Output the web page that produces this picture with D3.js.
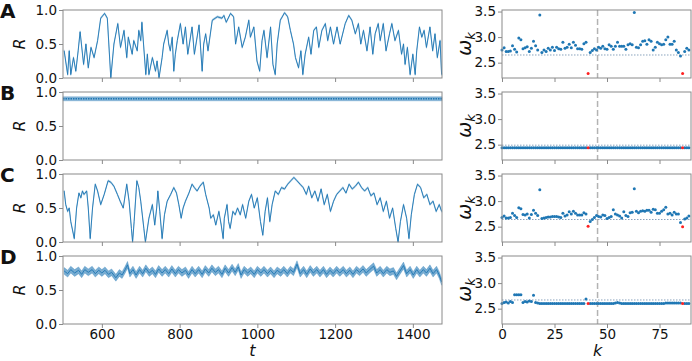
<!DOCTYPE html>
<html>
<head>
<meta charset="utf-8">
<script src="https://cdn.jsdelivr.net/npm/d3@7/dist/d3.min.js"></script>
<style>
  body { margin: 0; background: #fff; }
  text { font-family: "DejaVu Sans", sans-serif; fill: #111; }
</style>
</head>
<body>
<svg id="chart" width="692" height="361"></svg>
<script>
// ---- time series R(t), vertices ----
const tA = [503,512,516,520,527,533,539,544,553,559,565,572,580,589,597,607,614,623,631,641,648,657,664,668,678,682,691,695,700,703,713,717,721,730,738,742,747,755,759,768,772,776,781,785,789,794,802,809,815,821,832,838,850,858,862,867,873,884,897,909,914,920,931,939,
  944,952,961,969,978,982,991,999,1006,1012,1017,1025,1034,1040,1046,1051,1059,1070,1078,1085,1093,1098,1106,1112,1117,1123,1132,1138,1145,1152,1158,1166,1175,1181,1188,1196,1205,1213,1226,1235,1243,1252,1260,1266,1273,1282,1290,1297,1303,1311,1316,1324,1331,1340,1346,1354,1363,1371,1376,1380,1386,1393,1400,1406,1410,1417,1423,1429,1435,1444,1451,1457,1463,1470,1474];
const rA = [0.40,0.05,0.40,0.05,0.30,0.10,0.40,0.68,0.20,0.50,0.15,0.45,0.30,0.55,0.88,0.95,0.88,0.00,0.50,0.80,0.45,0.70,0.30,0.60,0.35,0.55,0.40,0.70,0.55,0.82,0.05,0.35,0.05,0.30,0.10,0.25,0.00,0.30,0.50,0.70,0.50,0.40,0.60,0.10,0.35,0.55,0.80,0.50,0.75,0.35,0.75,0.35,0.78,0.10,0.50,0.65,0.40,0.85,0.90,0.88,0.92,0.82,0.95,0.90,
  0.50,0.75,0.45,0.60,0.85,0.60,0.75,0.25,0.10,0.55,0.70,0.30,0.75,0.20,0.05,0.50,0.85,0.96,0.90,0.70,0.50,0.30,0.15,0.40,0.05,0.35,0.60,0.35,0.70,0.75,0.45,0.70,0.80,0.55,0.75,0.50,0.75,0.50,0.80,0.92,0.85,0.65,0.80,0.50,0.70,0.40,0.75,0.35,0.65,0.80,0.55,0.80,0.40,0.65,0.80,0.55,0.70,0.35,0.50,0.20,0.45,0.05,0.35,0.05,0.40,0.75,0.60,0.70,0.45,0.75,0.40,0.65,0.30,0.55,0.05];

const tB = [500, 1475];
const rB = [0.90, 0.90];

const tC = [503,507,512,516,520,529,535,541,546,550,554,561,565,570,576,583,589,597,606,616,623,631,640,647,655,664,670,676,679,683,690,695,700,708,712,721,730,736,741,744,749,755,761,768,777,785,792,798,804,809,815,824,832,838,845,852,861,867,876,880,887,893,901,907,912,915,922,926,930,937,943,949,956,
  962,970,978,985,992,1000,1008,1014,1020,1026,1032,1038,1046,1054,1062,1070,1078,1086,1094,1102,1110,1118,1126,1132,1140,1148,1156,1164,1172,1180,1188,1196,1204,1212,1220,1228,1236,1244,1252,1260,1268,1276,1284,1292,1300,1308,1316,1324,1332,1340,1348,1356,1362,1368,1376,1384,1390,1396,1404,1412,1420,1428,1436,1444,1452,1460,1468,1474];
const rC = [0.75,0.55,0.45,0.50,0.30,0.05,0.50,0.72,0.65,0.75,0.70,0.75,0.50,0.05,0.50,0.85,0.75,0.55,0.70,0.90,0.88,0.82,0.70,0.60,0.50,0.85,0.60,0.20,0.00,0.30,0.90,0.80,0.60,0.20,0.00,0.35,0.55,0.25,0.50,0.75,0.45,0.05,0.40,0.60,0.70,0.80,0.72,0.55,0.35,0.50,0.60,0.72,0.85,0.80,0.75,0.82,0.88,0.70,0.50,0.35,0.40,0.25,0.45,0.25,0.05,0.35,0.55,0.30,0.20,0.45,0.40,0.50,0.40,
  0.55,0.35,0.60,0.70,0.50,0.65,0.30,0.10,0.45,0.65,0.30,0.55,0.75,0.70,0.80,0.78,0.85,0.90,0.95,0.90,0.85,0.80,0.70,0.82,0.65,0.75,0.60,0.78,0.55,0.70,0.45,0.60,0.70,0.75,0.80,0.72,0.85,0.78,0.82,0.88,0.80,0.75,0.80,0.68,0.72,0.55,0.65,0.45,0.60,0.35,0.50,0.20,0.00,0.30,0.55,0.35,0.05,0.40,0.70,0.85,0.80,0.65,0.70,0.55,0.60,0.45,0.55,0.45];

const tD = [503,512,520,530,540,548,556,565,575,583,592,600,608,617,625,636,645,652,660,666,672,680,688,697,705,713,722,730,738,746,755,763,772,780,789,797,806,815,823,832,840,849,858,866,875,883,892,900,909,917,926,935,943,951,958,966,975,983,992,1000,1009,1017,1026,1034,1043,1051,1060,1068,1077,1085,1093,1102,1110,1119,1127,1136,1144,1153,1161,1170,1178,1187,1195,1204,1212,1221,1229,1238,1246,1255,1263,1272,1280,1289,1299,1307,1316,1324,1333,1341,1350,1358,1367,1376,1384,1393,1401,1410,1418,1427,1435,1444,1452,1461,1468,1474];
const rD = [0.78,0.74,0.80,0.75,0.79,0.73,0.80,0.76,0.80,0.74,0.79,0.75,0.79,0.73,0.76,0.68,0.75,0.72,0.80,0.87,0.74,0.80,0.72,0.80,0.74,0.82,0.75,0.79,0.73,0.81,0.75,0.80,0.74,0.81,0.74,0.80,0.75,0.79,0.72,0.80,0.74,0.80,0.73,0.81,0.75,0.82,0.76,0.80,0.73,0.82,0.75,0.83,0.76,0.84,0.72,0.80,0.75,0.79,0.73,0.80,0.75,0.80,0.74,0.79,0.73,0.79,0.75,0.80,0.74,0.80,0.76,0.88,0.74,0.80,0.73,0.81,0.75,0.80,0.74,0.80,0.73,0.79,0.74,0.80,0.75,0.80,0.74,0.79,0.73,0.80,0.76,0.81,0.75,0.80,0.85,0.75,0.80,0.74,0.80,0.76,0.78,0.70,0.78,0.86,0.74,0.80,0.72,0.80,0.74,0.80,0.75,0.82,0.74,0.80,0.72,0.62];

// ---- frequencies omega_k, k = 0..89 ----
const kIdx = d3.range(90);
const omegaA = [2.75,2.79,2.72,2.72,2.73,2.83,2.76,2.71,2.98,2.95,2.77,2.79,2.81,2.72,2.78,2.92,2.83,2.75,3.43,2.70,
  2.75,2.72,2.78,2.75,2.80,2.74,2.80,2.77,2.76,2.90,2.78,2.80,2.86,2.79,2.90,2.84,2.77,2.77,2.76,2.87,
  2.90,2.29,2.70,2.74,2.77,2.75,2.80,2.78,2.82,2.77,2.76,2.85,2.82,2.76,2.82,2.90,2.82,2.82,2.82,2.76,
  2.85,2.87,2.85,3.48,2.80,2.79,2.85,2.92,2.93,2.86,2.95,2.92,2.75,2.80,2.90,2.87,2.85,2.86,2.95,3.00,
  2.86,2.86,2.92,2.75,2.70,2.63,2.29,2.72,2.78,2.75];
const omegaB = [2.44,2.44,2.44,2.44,2.44,2.44,2.44,2.44,2.44,2.44,2.44,2.44,2.44,2.44,2.44,2.44,2.44,2.44,2.44,2.44,
  2.44,2.44,2.44,2.44,2.44,2.44,2.44,2.44,2.44,2.44,2.44,2.44,2.44,2.44,2.44,2.44,2.44,2.44,2.44,2.44,
  2.44,2.44,2.44,2.44,2.44,2.44,2.44,2.44,2.44,2.44,2.44,2.44,2.44,2.44,2.44,2.44,2.44,2.44,2.44,2.44,
  2.44,2.44,2.44,2.44,2.44,2.44,2.44,2.44,2.44,2.44,2.44,2.44,2.44,2.44,2.44,2.44,2.44,2.44,2.44,2.44,
  2.44,2.44,2.44,2.44,2.44,2.44,2.44,2.44,2.44,2.44];
const omegaC = [2.68,2.71,2.67,2.67,2.68,2.76,2.72,2.68,2.87,2.85,2.74,2.73,2.75,2.67,2.74,2.82,2.76,2.72,3.22,2.66,
  2.67,2.68,2.69,2.69,2.70,2.70,2.70,2.69,2.68,2.76,2.71,2.73,2.79,2.75,2.80,2.76,2.73,2.73,2.73,2.77,
  2.75,2.51,2.60,2.64,2.68,2.72,2.70,2.69,2.73,2.72,2.66,2.68,2.70,2.83,2.75,2.73,2.71,2.67,2.79,2.72,
  2.70,2.77,2.78,3.24,2.80,2.77,2.80,2.81,2.80,2.82,2.82,2.78,2.84,2.83,2.76,2.76,2.80,2.83,2.88,2.75,
  2.76,2.73,2.78,2.75,2.75,2.58,2.50,2.65,2.67,2.71];
const omegaD = [2.60,2.62,2.63,2.61,2.64,2.62,2.77,2.77,2.77,2.77,2.62,2.64,2.63,2.65,2.64,2.76,2.62,2.61,2.60,2.60,
  2.60,2.60,2.60,2.60,2.60,2.60,2.60,2.60,2.60,2.60,2.60,2.60,2.60,2.60,2.60,2.60,2.60,2.60,2.60,2.60,
  2.69,2.60,2.60,2.60,2.60,2.60,2.60,2.60,2.60,2.60,2.60,2.60,2.60,2.60,2.61,2.62,2.61,2.60,2.60,2.60,
  2.60,2.60,2.60,2.60,2.60,2.60,2.60,2.60,2.60,2.60,2.60,2.60,2.60,2.60,2.60,2.60,2.60,2.60,2.61,2.61,
  2.61,2.61,2.61,2.61,2.61,2.61,2.60,2.60,2.60,2.60];
const redK = [41, 86];
const meanOmega = [2.65, 2.49, 2.64, 2.67];
const splitK = 45.5;

const panelLabels = ["A", "B", "C", "D"];
const tTicks = [600, 800, 1000, 1200, 1400];
const rTicks = [0.0, 0.5, 1.0];
const kTicks = [0, 25, 50, 75];
const wTicks = [2.5, 3.0, 3.5];

// band = half width (in R) of the fast-oscillation envelope around the curve
const rows = [
  { t: tA, r: rA, w: omegaA, band: 0.015, bandOp: 0.35 },
  { t: tB, r: rB, w: omegaB, band: 0.03, bandOp: 0.55 },
  { t: tC, r: rC, w: omegaC, band: 0.015, bandOp: 0.35 },
  { t: tD, r: rD, w: omegaD, band: 0.05, bandOp: 0.6 }
];

// ---- layout ----
const svg = d3.select("#chart");
const leftX = 63, leftW = 379;
const rightX = 502, rightW = 189;
const rowH = 68;
const rowTop = i => 10 + i * 82;
const blue = "#1f77b4";
const spine = "#8a8a8a";

const xT = d3.scaleLinear().domain([500, 1475]).range([leftX, leftX + leftW]);
const xK = d3.scaleLinear().domain([0, 90]).range([rightX, rightX + rightW]);

rows.forEach((row, i) => {
  const top = rowTop(i);
  const yR = d3.scaleLinear().domain([0, 1]).range([top + rowH, top]);
  const yW = d3.scaleLinear().domain([2.2, 3.53]).range([top + rowH, top]);
  const last = i === rows.length - 1;

  // panel letter
  svg.append("text")
    .attr("x", 0).attr("y", top + 8)
    .style("font-size", "20px").style("font-weight", "bold")
    .text(panelLabels[i]);

  // ---------- left: R(t) ----------
  const pts = row.t.map((t, j) => [t, row.r[j]]);
  const line = d3.line().x(d => xT(d[0])).y(d => yR(d[1]));
  const band = d3.area()
    .x(d => xT(d[0]))
    .y0(d => yR(d[1] - row.band))
    .y1(d => yR(d[1] + row.band));

  svg.append("path")
    .attr("d", band(pts))
    .attr("fill", blue)
    .attr("fill-opacity", row.bandOp)
    .attr("stroke", blue)
    .attr("stroke-opacity", row.bandOp * 0.6)
    .attr("stroke-width", 0.8);

  svg.append("path")
    .attr("d", line(pts))
    .attr("fill", "none")
    .attr("stroke", blue)
    .attr("stroke-width", i === 1 ? 1.5 : 0.9)
    .attr("stroke-dasharray", i === 1 ? "1.5,1" : null);

  svg.append("g")
    .attr("transform", `translate(${leftX},0)`)
    .call(d3.axisLeft(yR).tickValues(rTicks).tickFormat(d3.format(".1f")).tickSize(4).tickPadding(2));
  svg.append("g")
    .attr("transform", `translate(0,${top + rowH})`)
    .call(d3.axisBottom(xT).tickValues(tTicks).tickFormat(last ? d3.format("d") : "").tickSize(4).tickPadding(1));

  svg.append("rect")
    .attr("x", leftX).attr("y", top).attr("width", leftW).attr("height", rowH)
    .attr("fill", "none").attr("stroke", spine);

  svg.append("text")
    .attr("transform", `translate(25,${top + rowH / 2}) rotate(-90)`)
    .attr("text-anchor", "middle")
    .style("font-size", "16px").style("font-style", "italic")
    .text("R");

  // ---------- right: omega_k ----------
  svg.append("line")
    .attr("x1", rightX).attr("x2", rightX + rightW)
    .attr("y1", yW(meanOmega[i])).attr("y2", yW(meanOmega[i]))
    .attr("stroke", "#8aa3bd").attr("stroke-width", 1)
    .attr("stroke-dasharray", "1.5,1.5");

  svg.append("line")
    .attr("x1", xK(splitK)).attr("x2", xK(splitK))
    .attr("y1", top).attr("y2", top + rowH)
    .attr("stroke", "#b3b3b3").attr("stroke-width", 1.5)
    .attr("stroke-dasharray", "6,3");

  // red nodes are drawn last so they stay on top
  const order = kIdx.filter(k => !redK.includes(k)).concat(redK);
  svg.append("g").selectAll("circle")
    .data(order)
    .enter().append("circle")
    .attr("cx", k => xK(k))
    .attr("cy", k => yW(row.w[k]))
    .attr("r", 1.5)
    .attr("fill", k => redK.includes(k) ? "#ff2020" : blue);

  svg.append("g")
    .attr("transform", `translate(${rightX},0)`)
    .call(d3.axisLeft(yW).tickValues(wTicks).tickFormat(d3.format(".1f")).tickSize(4).tickPadding(2));
  svg.append("g")
    .attr("transform", `translate(0,${top + rowH})`)
    .call(d3.axisBottom(xK).tickValues(kTicks).tickFormat(last ? d3.format("d") : "").tickSize(4).tickPadding(1));

  svg.append("rect")
    .attr("x", rightX).attr("y", top).attr("width", rightW).attr("height", rowH)
    .attr("fill", "none").attr("stroke", spine);

  const wl = svg.append("text")
    .attr("transform", `translate(471,${top + rowH / 2}) rotate(-90)`)
    .attr("text-anchor", "middle")
    .style("font-style", "italic");
  wl.append("tspan").style("font-size", "19px").text("ω");
  wl.append("tspan").style("font-size", "13px").attr("dy", 4).text("k");
});

// axis styling like matplotlib
svg.selectAll(".domain").remove();
svg.selectAll(".tick line").attr("stroke", spine);
svg.selectAll(".tick text").style("font-size", "13.5px").attr("fill", "#111")
  .style("font-family", "DejaVu Sans, sans-serif");

// x labels
svg.append("text")
  .attr("x", xT(987)).attr("y", 356)
  .attr("text-anchor", "middle")
  .style("font-size", "16px").style("font-style", "italic")
  .text("t");
svg.append("text")
  .attr("x", xK(45.5)).attr("y", 356)
  .attr("text-anchor", "middle")
  .style("font-size", "16px").style("font-style", "italic")
  .text("k");
</script>
</body>
</html>
